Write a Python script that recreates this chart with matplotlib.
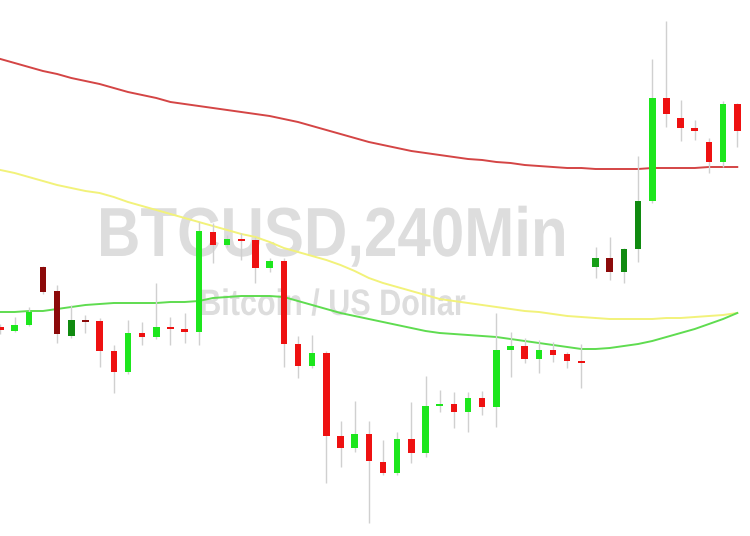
import matplotlib
matplotlib.use("Agg")
import matplotlib.pyplot as plt
from matplotlib.patches import Rectangle
from matplotlib.patheffects import AbstractPathEffect
from matplotlib.transforms import Affine2D

# Candle data (price units: chart-scale values)
opens  = [209, 205, 211, 269, 245, 200, 215, 215, 185, 164, 203, 199, 209, 207, 204, 304, 291, 297, 296, 268, 275, 192, 170, 183, 100, 88, 102, 74, 63, 97, 83, 130, 132, 124, 138, 129, 186, 190, 177, 186, 182, 175, 269, 278, 264, 287, 335, 438, 418, 408, 394, 374, 432]
closes = [206, 211, 224, 244, 202, 216, 214, 185, 164, 203, 199, 209, 207, 204, 305, 291, 297, 295, 268, 275, 192, 170, 183, 100, 88, 102, 75, 63, 97, 83, 130, 132, 124, 138, 129, 186, 190, 177, 186, 181, 175, 173, 278, 264, 287, 335, 438, 422, 408, 405, 374, 432, 405]
highs  = [212, 219, 229, 270, 251, 231, 221, 218, 191, 216, 214, 253, 219, 223, 314, 313, 301, 303, 299, 278, 278, 200, 201, 185, 115, 135, 115, 96, 104, 134, 160, 146, 144, 144, 145, 223, 204, 198, 196, 194, 184, 192, 289, 299, 288, 380, 477, 515, 436, 416, 398, 435, 433]
lows   = [202, 204, 210, 242, 193, 198, 203, 169, 143, 162, 191, 197, 191, 193, 191, 273, 289, 276, 253, 264, 169, 158, 168, 53, 69, 84, 13, 61, 61, 73, 79, 124, 108, 104, 121, 109, 159, 173, 163, 174, 168, 148, 258, 256, 253, 274, 333, 409, 395, 396, 363, 369, 389]
styles = ["n", "n", "n", "d", "d", "d", "d", "n", "n", "n", "n", "n", "n", "n", "n", "n", "n", "n", "n", "n", "n", "n", "n", "n", "n", "n", "n", "n", "n", "n", "n", "n", "n", "n", "n", "n", "n", "n", "n", "n", "n", "n", "m", "d", "d", "d", "n", "n", "n", "n", "n", "n", "n"]

# Moving averages per candle
ma_slow = [477, 473, 469, 465, 462, 458, 455, 452, 448, 444, 441, 438, 434, 432, 430, 428, 426, 424, 422, 420, 417, 414, 410, 406, 402, 398, 394, 391, 388, 385, 383, 381, 379, 377, 376, 374, 373, 371, 370, 369, 368, 368, 367, 367, 367, 367, 368, 368, 368, 368, 369, 369, 369]
ma_mid  = [366, 363, 359, 355, 351, 348, 345, 343, 339, 334, 330, 326, 322, 318, 314, 310, 306, 302, 299, 294, 288, 284, 280, 276, 271, 265, 258, 253, 249, 245, 241, 237, 235, 233, 231, 229, 227, 225, 224, 222, 220, 219, 218, 217, 217, 217, 217, 218, 218, 219, 220, 221, 223]
ma_fast = [224, 224, 225, 225, 227, 229, 231, 232, 233, 233, 233, 233, 234, 234, 235, 238, 239, 240, 240, 240, 239, 235, 231, 227, 223, 220, 217, 214, 211, 208, 205, 203, 202, 201, 200, 199, 197, 195, 193, 191, 189, 187, 187, 188, 190, 192, 195, 199, 203, 207, 212, 217, 223]

title_text = "BTCUSD,240Min"
subtitle_text = "Bitcoin / US Dollar"


class Condense(AbstractPathEffect):
    """Draw text glyphs horizontally condensed about a display x-centre."""

    def __init__(self, sx, cx):
        super().__init__()
        self.sx = sx
        self.cx = cx

    def draw_path(self, renderer, gc, tpath, affine, rgbFace=None):
        aff = affine + Affine2D().translate(-self.cx, 0).scale(self.sx, 1).translate(self.cx, 0)
        renderer.draw_path(gc, tpath, aff, rgbFace)


W, H = 750, 536
fig = plt.figure(figsize=(W / 100, H / 100), dpi=100)
ax = fig.add_axes([0, 0, 1, 1])
ax.set_axis_off()
step = 14.17
ax.set_xlim(-0.03, W / step - 0.03)
ax.set_ylim(0, H)

fam = ["Liberation Sans", "DejaVu Sans"]
cx = 332
ax.text(cx / step, 280, title_text, ha="center", va="baseline", fontsize=50,
        fontweight="bold", color="#dddddd", family=fam, zorder=0,
        path_effects=[Condense(0.865, cx)])
ax.text(cx / step, 221, subtitle_text, ha="center", va="baseline", fontsize=26.5,
        fontweight="bold", color="#dddddd", family=fam, zorder=0,
        path_effects=[Condense(0.83, cx)])

xs = list(range(len(opens)))
ax.plot(xs, ma_slow, color="#d44545", lw=1.4, zorder=2)
ax.plot(xs, ma_mid, color="#f2f27a", lw=1.4, zorder=2)
ax.plot(xs, ma_fast, color="#5fdc50", lw=1.4, zorder=2)

colors = {
    ("n", True): "#1de61d", ("n", False): "#ee1111",
    ("d", True): "#108a10", ("d", False): "#8c0a0a",
    ("m", True): "#179e17", ("m", False): "#8c0a0a",
}
bw = 0.46
for i, (o, c, h, l, s) in enumerate(zip(opens, closes, highs, lows, styles)):
    up = c >= o
    col = colors[(s, up)]
    ax.plot([i, i], [l, h], color="#d0d0d0", lw=1.0, zorder=3, solid_capstyle="butt")
    lo, hi = min(o, c), max(o, c)
    hgt = max(hi - lo, 2.0)
    ax.add_patch(Rectangle((i - bw / 2, lo), bw, hgt, facecolor=col,
                           edgecolor="none", zorder=4))

fig.savefig("out.png", dpi=100, facecolor="white")
